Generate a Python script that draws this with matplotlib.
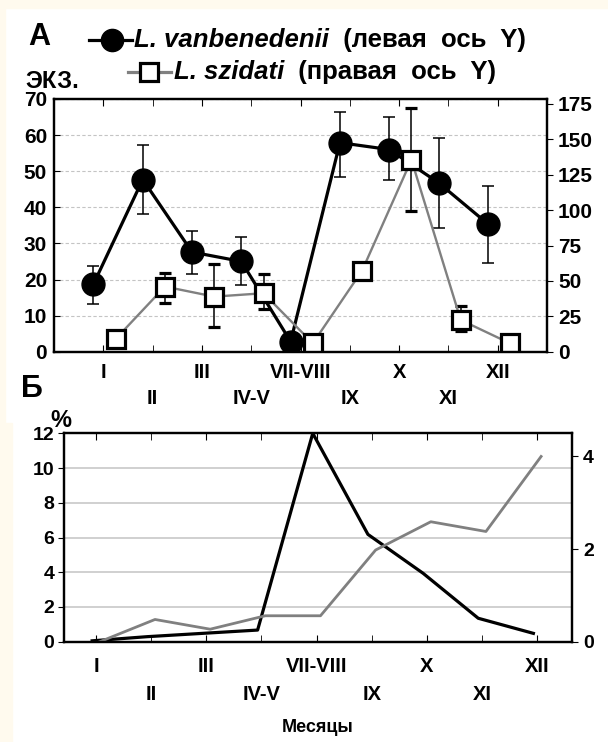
import numpy as np
import matplotlib.pyplot as plt
from matplotlib.patches import Rectangle
from matplotlib.lines import Line2D

plt.rcParams['font.family'] = ['Liberation Sans', 'DejaVu Sans']
plt.rcParams['font.weight'] = 'bold'

months = ['I', 'II', 'III', 'IV-V', 'VII-VIII', 'IX', 'X', 'XI', 'XII']

# А: численность, экз. (среднее и границы ошибки)
vanb_mean = [18.7, 47.7, 27.6, 25.0, 2.8, 57.9, 56.0, 46.8, 35.4]
vanb_low = [13.2, 38.2, 21.5, 18.5, 2.8, 48.4, 47.5, 34.4, 24.6]
vanb_high = [23.8, 57.2, 33.5, 31.9, 2.8, 66.4, 65.0, 59.2, 46.0]
szid_mean = [9.0, 46.0, 38.9, 41.3, 5.9, 57.3, 135.6, 22.4, 5.9]
szid_low = [9.0, 34.2, 17.3, 30.0, 5.9, 57.3, 99.6, 14.6, 5.9]
szid_high = [9.0, 55.9, 62.0, 55.0, 5.9, 57.3, 172.0, 32.3, 5.9]

# Б: доля, %
vanb_pct = [0.05, 0.29, 0.48, 0.67, 12.0, 6.18, 3.94, 1.35, 0.48]
szid_pct = [0.0, 0.48, 0.27, 0.56, 0.56, 1.98, 2.59, 2.38, 4.0]

W, H = 608, 742
x = np.arange(1, len(months) + 1)

fig = plt.figure(figsize=(W / 100, H / 100), dpi=100)
fig.patch.set_facecolor('white')
# light page border
cream = '#fffaee'
fig.patches.append(Rectangle((0, 1 - 8 / H), 1, 8 / H, transform=fig.transFigure, color=cream, zorder=0))
fig.patches.append(Rectangle((0, 0), 5 / W, 1, transform=fig.transFigure, color=cream, zorder=0))
fig.patches.append(Rectangle((0, 0), 12 / W, 1 - 423 / H, transform=fig.transFigure, color=cream, zorder=0))


def px_axes(l, t, r, b):
    return fig.add_axes([l / W, 1 - b / H, (r - l) / W, (b - t) / H])


def set_months(ax, pad1, pad2):
    ax.set_xticks(x[0::2])
    ax.set_xticklabels(months[0::2])
    ax.set_xticks(x[1::2], minor=True)
    ax.set_xticklabels(months[1::2], minor=True)
    ax.tick_params(axis='x', which='both', direction='in', top=True, length=5, labelsize=14.5)
    ax.tick_params(axis='x', which='major', pad=pad1)
    ax.tick_params(axis='x', which='minor', pad=pad2)


# ---- panel A ----
axA = px_axes(54, 99, 547, 351.7)
axA2 = axA.twinx()

yerr_v = [np.subtract(vanb_mean, vanb_low), np.subtract(vanb_high, vanb_mean)]
axA.errorbar(x - 0.2, vanb_mean, yerr=yerr_v, fmt='-o', color='k', lw=2.3, ms=16.5,
             ecolor='k', elinewidth=1.1, capsize=4.5, capthick=1.1)
yerr_s = [np.subtract(szid_mean, szid_low), np.subtract(szid_high, szid_mean)]
axA2.errorbar(x + 0.25, szid_mean, yerr=yerr_s, fmt='-s', color='#808080', lw=1.7, ms=13,
              mfc='white', mec='k', mew=2.3, ecolor='k', elinewidth=1.1, capsize=4.5, capthick=1.1)

axA.set_xlim(0, 10)
axA.set_ylim(0, 70)
axA.set_yticks(range(0, 80, 10))
axA2.set_ylim(0, 178.5)
axA2.set_yticks(range(0, 200, 25))
axA.set_axisbelow(True)
axA.yaxis.grid(True, ls=(0, (3, 2)), color='#c4c4c4', lw=0.8)
set_months(axA, 8, 27)
axA.tick_params(axis='y', direction='in', length=4, labelsize=15, pad=5)
axA2.tick_params(axis='y', direction='out', length=4, labelsize=15, pad=4)
for a in (axA, axA2):
    for s in a.spines.values():
        s.set_linewidth(1.6)

# ---- panel Б ----
axB = px_axes(64, 433.3, 572, 641.7)
axB2 = axB.twinx()
axB.plot(x - 0.07, vanb_pct, color='k', lw=2.3)
axB2.plot(x + 0.07, szid_pct, color='#808080', lw=2.0)
axB.set_xlim(0.42, 9.63)
axB.set_ylim(0, 12)
axB.set_yticks(range(0, 14, 2))
axB2.set_ylim(0, 4.5)
axB2.set_yticks([0, 2, 4])
axB.set_axisbelow(True)
axB.yaxis.grid(True, color='#c8c8c8', lw=1.2)
set_months(axB, 11, 31)
axB.tick_params(axis='y', direction='out', length=4, labelsize=14, pad=3)
axB2.tick_params(axis='y', direction='out', length=4, labelsize=14, pad=4)
for a in (axB, axB2):
    for s in a.spines.values():
        s.set_linewidth(1.6)

# ---- labels ----
def ftext(px, py, s, **kw):
    return fig.text(px / W, 1 - py / H, s, **kw)


ftext(39, 37, 'А', size=22, ha='center', va='center')
ftext(52, 82, 'ЭКЗ.', size=17, ha='center', va='center')
ftext(32, 389, 'Б', size=22, ha='center', va='center')
ftext(61, 421, '%', size=17, ha='center', va='center')
ftext(318, 728, 'Месяцы', size=13, ha='center', va='center')

# legend
fig.add_artist(Line2D([89 / W, 132 / W], [1 - 40 / H] * 2, color='k', lw=2.3))
fig.add_artist(Line2D([112 / W], [1 - 40 / H], marker='o', ms=16, color='k'))
fig.add_artist(Line2D([128 / W, 171 / W], [1 - 72 / H] * 2, color='#808080', lw=2.3))
fig.add_artist(Line2D([149 / W], [1 - 72 / H], marker='s', ms=13, mfc='white', mec='k', mew=2.3))

t1 = ftext(134, 40, 'L. vanbenedenii', size=18.5, style='italic', va='center')
axA.annotate('  (левая  ось  Y)', xy=(1, 0), xycoords=t1, va='bottom', size=18.5,
             annotation_clip=False)
t2 = ftext(174, 72, 'L. szidati', size=18.5, style='italic', va='center')
axA.annotate('  (правая  ось  Y)', xy=(1, 0), xycoords=t2, va='bottom', size=18.5,
             annotation_clip=False)

fig.savefig('out.png', dpi=100)
